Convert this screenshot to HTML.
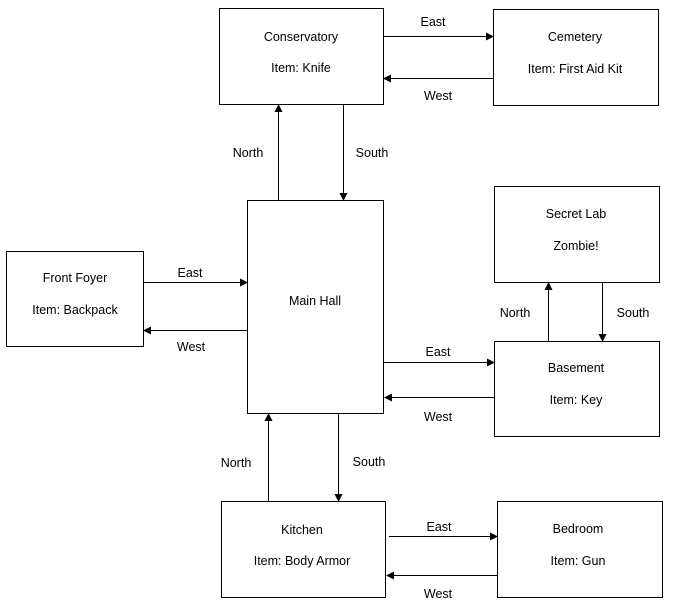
<!DOCTYPE html>
<html><head><style>body{margin:0;background:#fff}</style></head><body>
<svg width="676" height="606" xmlns="http://www.w3.org/2000/svg" font-family="Liberation Sans, sans-serif" font-size="12.5" fill="#000">
<defs><marker id="a" markerWidth="8" markerHeight="8" refX="7" refY="4" orient="auto" markerUnits="userSpaceOnUse"><path d="M0,0 L8,4 L0,8 z" fill="#000"/></marker></defs>
<g fill="#fff" stroke="#000" stroke-width="1">
<rect x="219.5" y="8.5" width="164" height="96"/>
<rect x="493.5" y="9.5" width="165" height="96"/>
<rect x="494.5" y="186.5" width="165" height="96"/>
<rect x="247.5" y="200.5" width="136" height="213"/>
<rect x="6.5" y="251.5" width="137" height="95"/>
<rect x="494.5" y="341.5" width="165" height="95"/>
<rect x="221.5" y="501.5" width="164" height="96"/>
<rect x="497.5" y="501.5" width="165" height="96"/>
</g>
<g stroke="#000" stroke-width="1" marker-end="url(#a)">
<line x1="383" y1="36.5" x2="493" y2="36.5"/>
<line x1="493" y1="78.5" x2="384" y2="78.5"/>
<line x1="278.5" y1="200" x2="278.5" y2="105"/>
<line x1="343.5" y1="104" x2="343.5" y2="200"/>
<line x1="143" y1="282.5" x2="247" y2="282.5"/>
<line x1="247" y1="330.5" x2="144" y2="330.5"/>
<line x1="384" y1="362.5" x2="494" y2="362.5"/>
<line x1="494" y1="397.5" x2="385" y2="397.5"/>
<line x1="548.5" y1="341" x2="548.5" y2="283"/>
<line x1="602.5" y1="282" x2="602.5" y2="341"/>
<line x1="268.5" y1="501" x2="268.5" y2="414"/>
<line x1="338.5" y1="413" x2="338.5" y2="501"/>
<line x1="389" y1="536.5" x2="497" y2="536.5"/>
<line x1="497" y1="575.5" x2="387" y2="575.5"/>
</g>
<g text-anchor="middle">
<text x="301" y="41">Conservatory</text><text x="301" y="72">Item: Knife</text>
<text x="575" y="41">Cemetery</text><text x="575" y="73">Item: First Aid Kit</text>
<text x="576" y="218">Secret Lab</text><text x="576" y="250">Zombie!</text>
<text x="315" y="305">Main Hall</text>
<text x="75" y="282">Front Foyer</text><text x="75" y="314">Item: Backpack</text>
<text x="576" y="372">Basement</text><text x="576" y="404">Item: Key</text>
<text x="302" y="534">Kitchen</text><text x="302" y="565">Item: Body Armor</text>
<text x="578" y="533">Bedroom</text><text x="578" y="565">Item: Gun</text>
<text x="433" y="26">East</text><text x="438" y="100">West</text>
<text x="248" y="157">North</text><text x="372" y="157">South</text>
<text x="190" y="277">East</text><text x="191" y="351">West</text>
<text x="438" y="356">East</text><text x="438" y="421">West</text>
<text x="515" y="317">North</text><text x="633" y="317">South</text>
<text x="236" y="467">North</text><text x="369" y="466">South</text>
<text x="439" y="531">East</text><text x="438" y="598">West</text>
</g>
</svg>
</body></html>
